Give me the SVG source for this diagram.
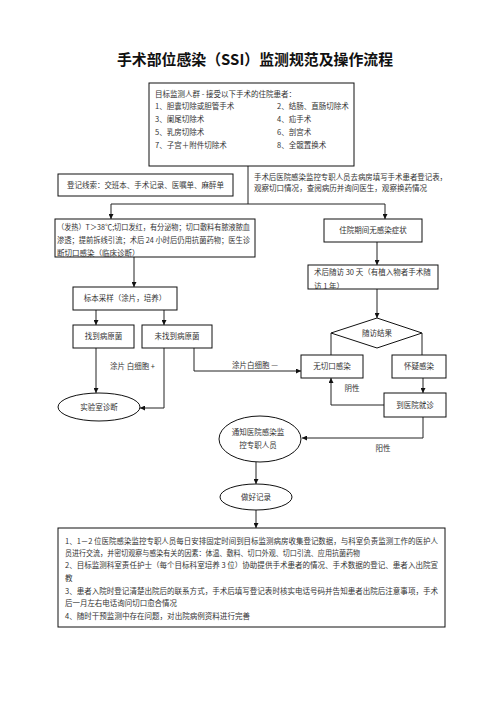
<svg xmlns="http://www.w3.org/2000/svg" width="496" height="702" viewBox="0 0 496 702">
<defs>
<style>
.bx{fill:#fff;stroke:#111;stroke-width:1}
.t{font-family:"Noto Sans CJK SC","Noto Sans",sans-serif;font-size:7.5px;fill:#333}
.c{text-anchor:middle}
.ln{fill:none;stroke:#222;stroke-width:1}
.ttl{font-family:"Noto Sans CJK SC","Noto Sans",sans-serif;font-size:15px;font-weight:bold;fill:#111;text-anchor:middle}
</style>
<marker id="ah" viewBox="0 0 10 10" refX="10" refY="5" markerWidth="5" markerHeight="5" orient="auto"><path d="M0,0 L10,5 L0,10 z" fill="#111"/></marker>
<clipPath id="clipFollow"><rect x="308" y="265" width="130" height="24"/></clipPath>
</defs>
<rect width="496" height="702" fill="#fff"/>
<text class="ttl" x="255" y="65" textLength="276" lengthAdjust="spacingAndGlyphs">手术部位感染（SSI）监测规范及操作流程</text>

<g id="connectors">
<path class="ln" d="M248,166 V204 H111 V219" marker-end="url(#ah)"/>
<path class="ln" d="M248,204 H385 V219" marker-end="url(#ah)"/>
<path class="ln" d="M377,242 V265" marker-end="url(#ah)"/>
<path class="ln" d="M377,289 V318" marker-end="url(#ah)"/>
<path class="ln" d="M134,257 V287" marker-end="url(#ah)"/>
<path class="ln" d="M96,310 V325" marker-end="url(#ah)"/>
<path class="ln" d="M164,310 V325" marker-end="url(#ah)"/>
<path class="ln" d="M96,348 V393" marker-end="url(#ah)"/>
<path class="ln" d="M164,348 V408 H140" marker-end="url(#ah)"/>
<path class="ln" d="M194,348 V371 H301" marker-end="url(#ah)"/>
<path class="ln" d="M331,333 V355"/>
<path class="ln" d="M422,333 V355"/>
<path class="ln" d="M423,378 V393" marker-end="url(#ah)"/>
<path class="ln" d="M384,405 H331 V378" marker-end="url(#ah)"/>
<path class="ln" d="M423,417 V438 H302" marker-end="url(#ah)"/>
<path class="ln" d="M256,462 V484" marker-end="url(#ah)"/>
<path class="ln" d="M256,510 V528" marker-end="url(#ah)"/>
<text class="t" x="110" y="368.5">涂片  白细胞 +</text>
<text class="t" x="232" y="368">涂片白细胞  —</text>
<text class="t c" x="352" y="390.5">阴性</text>
<text class="t c" x="383" y="450.5">阳性</text>
<text class="t" x="254" y="179.5" textLength="193" lengthAdjust="spacingAndGlyphs">手术后医院感染监控专职人员去病房填写手术患者登记表，</text>
<text class="t" x="254" y="190.7" textLength="173" lengthAdjust="spacingAndGlyphs">观察切口情况，查阅病历并询问医生，观察换药情况</text>
</g>

<g id="target">
<rect class="bx" x="149" y="83" width="205" height="83"/>
<text class="t" x="155" y="96.7">目标监测人群 - 接受以下手术的住院患者：</text>
<text class="t" x="155" y="109">1、胆囊切除或胆管手术</text>
<text class="t" x="277" y="109">2、结肠、直肠切除术</text>
<text class="t" x="155" y="121.7">3、阑尾切除术</text>
<text class="t" x="277" y="121.7">4、疝手术</text>
<text class="t" x="155" y="134.7">5、乳房切除术</text>
<text class="t" x="277" y="134.7">6、剖宫术</text>
<text class="t" x="155" y="147.7">7、子宫＋附件切除术</text>
<text class="t" x="277" y="147.7">8、全髋置换术</text>
</g>

<g id="register">
<rect class="bx" x="58" y="174" width="175" height="22"/>
<text class="t" x="67" y="187.7" textLength="157" lengthAdjust="spacingAndGlyphs">登记线索：交班本、手术记录、医嘱单、麻醉单</text>
</g>

<g id="fever">
<rect class="bx" x="55" y="219" width="200" height="38"/>
<text class="t" x="57" y="229.7" textLength="193" lengthAdjust="spacingAndGlyphs">（发热）T＞38℃;切口发红，有分泌物；切口敷料有脓液脓血</text>
<text class="t" x="57" y="243.2" textLength="193" lengthAdjust="spacingAndGlyphs">渗透；提前拆线引流；术后 24 小时后仍用抗菌药物；医生诊</text>
<text class="t" x="57" y="255.5">断切口感染（临床诊断）</text>
</g>

<g id="noinfect">
<rect class="bx" x="324" y="219" width="98" height="23"/>
<text class="t c" x="373" y="232.7">住院期间无感染症状</text>
</g>

<g id="follow">
<rect class="bx" x="308" y="265" width="130" height="24"/>
<g clip-path="url(#clipFollow)">
<text class="t" x="314" y="274.7">术后随访 30 天（有植入物者手术随</text>
<text class="t" x="314" y="289">访 1 年）</text>
</g>
</g>

<g id="sample">
<rect class="bx" x="73" y="287" width="104" height="23"/>
<text class="t c" x="125" y="300.7">标本采样（涂片，培养）</text>
</g>

<g id="found">
<rect class="bx" x="73" y="325" width="61" height="23"/>
<text class="t c" x="103.5" y="338.5">找到病原菌</text>
</g>

<g id="notfound">
<rect class="bx" x="142" y="325" width="70" height="23"/>
<text class="t c" x="177" y="338.5">未找到病原菌</text>
</g>

<g id="lab">
<ellipse class="bx" cx="99" cy="407" rx="41" ry="14"/>
<text class="t c" x="99" y="410.2">实验室诊断</text>
</g>

<g id="result">
<polygon class="bx" points="377,318 422,333 377,348 331,333"/>
<text class="t c" x="377" y="335.7">随访结果</text>
</g>

<g id="noinc">
<rect class="bx" x="301" y="355" width="62" height="23"/>
<text class="t c" x="332" y="368.7">无切口感染</text>
</g>

<g id="suspect">
<rect class="bx" x="392" y="355" width="54" height="23"/>
<text class="t c" x="419" y="368.7">怀疑感染</text>
</g>

<g id="visit">
<rect class="bx" x="384" y="393" width="62" height="24"/>
<text class="t c" x="415" y="407.7">到医院就诊</text>
</g>

<g id="notify">
<ellipse class="bx" cx="260" cy="439" rx="41" ry="23"/>
<text class="t c" x="258" y="435">通知医院感染监</text>
<text class="t c" x="258" y="448">控专职人员</text>
</g>

<g id="record">
<ellipse class="bx" cx="256" cy="497" rx="36" ry="13"/>
<text class="t c" x="256" y="500">做好记录</text>
</g>

<g id="notes">
<rect class="bx" x="58" y="528" width="387" height="99"/>
<text class="t" x="65" y="543.7" textLength="373" lengthAdjust="spacingAndGlyphs">1、1－2 位医院感染监控专职人员每日安排固定时间到目标监测病房收集登记数据，与科室负责监测工作的医护人</text>
<text class="t" x="65" y="555.7" textLength="295" lengthAdjust="spacingAndGlyphs">员进行交流，并密切观察与感染有关的因素：体温、敷料、切口外观、切口引流、应用抗菌药物</text>
<text class="t" x="65" y="567.7" textLength="373" lengthAdjust="spacingAndGlyphs">2、目标监测科室责任护士（每个目标科室培养 3 位）协助提供手术患者的情况、手术数据的登记、患者入出院宣</text>
<text class="t" x="65" y="580.7">教</text>
<text class="t" x="65" y="594.2" textLength="373" lengthAdjust="spacingAndGlyphs">3、患者入院时登记清楚出院后的联系方式，手术后填写登记表时核实电话号码并告知患者出院后注意事项，手术</text>
<text class="t" x="65" y="606.2" textLength="112" lengthAdjust="spacingAndGlyphs">后一月左右电话询问切口愈合情况</text>
<text class="t" x="65" y="619.2" textLength="185" lengthAdjust="spacingAndGlyphs">4、随时干预监测中存在问题，对出院病例资料进行完善</text>
</g>
</svg>
